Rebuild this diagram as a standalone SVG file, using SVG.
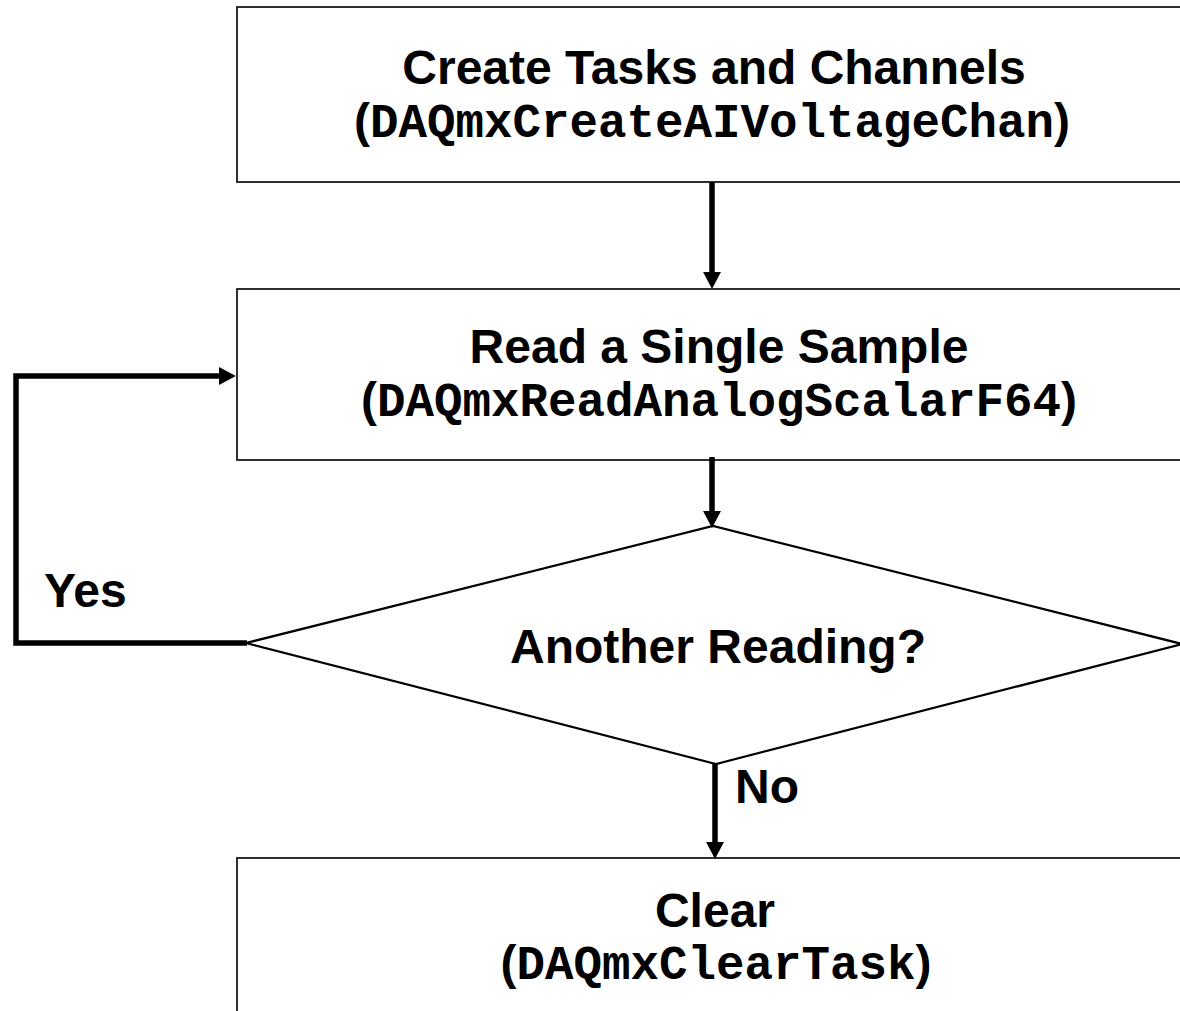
<svg xmlns="http://www.w3.org/2000/svg" width="1180" height="1011" viewBox="0 0 1180 1011">
  <style>
    .box { fill: #ffffff; stroke: #1a1a1a; stroke-width: 1.8; }
    .dec { fill: #ffffff; stroke: #000000; stroke-width: 2.2; }
    .title { font-family: "Liberation Sans", Arial, sans-serif; font-weight: bold; font-size: 48px; fill: #000000; text-anchor: middle; }
    .label { font-family: "Liberation Sans", Arial, sans-serif; font-weight: bold; font-size: 48px; fill: #000000; }
    .code { font-family: "Liberation Mono", "Courier New", monospace; font-weight: bold; font-size: 47.5px; }
    .edge { fill: none; stroke: #000000; stroke-width: 5.5; }
  </style>
  <defs>
    <marker id="arrow" markerUnits="userSpaceOnUse" markerWidth="18" markerHeight="18" refX="1" refY="8.5" orient="auto" viewBox="0 0 17 17">
      <path d="M0,0 L16,8.5 L0,17 z" fill="#000000"/>
    </marker>
  </defs>
  <rect width="1180" height="1011" fill="#ffffff"/>

  <!-- process: create task and channels -->
  <g id="node-create">
    <rect class="box" x="237" y="7" width="980" height="175"/>
    <text class="title" x="714" y="84">Create Tasks and Channels</text>
    <text class="title" x="712" y="137">(<tspan class="code">DAQmxCreateAIVoltageChan</tspan>)</text>
  </g>

  <!-- process: read one sample -->
  <g id="node-read">
    <rect class="box" x="237" y="289" width="980" height="171"/>
    <text class="title" x="719" y="363">Read a Single Sample</text>
    <text class="title" x="719" y="416">(<tspan class="code">DAQmxReadAnalogScalarF64</tspan>)</text>
  </g>

  <!-- decision -->
  <g id="node-decision">
    <polygon class="dec" points="246,643 713,526 1182,644 716,764"/>
    <text class="title" x="718" y="663">Another Reading?</text>
  </g>

  <!-- process: clear task -->
  <g id="node-clear">
    <rect class="box" x="237" y="858" width="980" height="200"/>
    <text class="title" x="715" y="927">Clear</text>
    <text class="title" x="716" y="979">(<tspan class="code">DAQmxClearTask</tspan>)</text>
  </g>

  <!-- connectors -->
  <g id="connectors">
    <path class="edge" d="M712,182 V273" marker-end="url(#arrow)"/>
    <path class="edge" d="M712,457 V512" marker-end="url(#arrow)"/>
    <path class="edge" d="M715,764 V843" marker-end="url(#arrow)"/>
    <path class="edge" d="M247,643 H16 V376 H220" marker-end="url(#arrow)"/>
    <text class="label" x="44" y="607">Yes</text>
    <text class="label" x="735" y="803">No</text>
  </g>
</svg>
